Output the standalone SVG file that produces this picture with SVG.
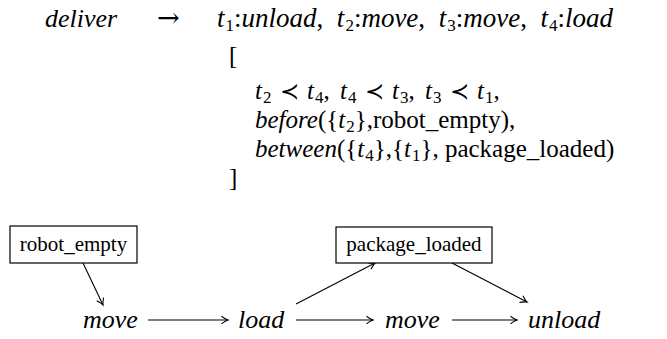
<svg xmlns="http://www.w3.org/2000/svg" width="667" height="339" viewBox="0 0 667 339" font-family="'Liberation Serif', 'DejaVu Serif', serif">
<style>
.t1{font-size:27px}
.t2{font-size:25px}
.it{font-style:italic}
.sb{font-size:17px}
.sym{font-family:'DejaVu Serif', serif}
.box{fill:#fff;stroke:#000;stroke-width:1.2}
.lbl{font-size:21px}
.node{font-size:26px;font-style:italic}
.edge{fill:none;stroke:#000;stroke-width:1.1;marker-end:url(#ah)}
</style>
<defs>
<marker id="ah" markerWidth="12" markerHeight="10" refX="0" refY="0" viewBox="-8 -5 10 10" orient="auto" markerUnits="userSpaceOnUse">
<path d="M-6.5,-3.8 Q-2,-0.6 0,0 Q-2,0.6 -6.5,3.8" fill="none" stroke="#000" stroke-width="1.1"/>
</marker>
</defs>
<g id="formula">
<text class="it" x="45" y="27" font-size="26">deliver</text>
<text class="sym" x="157" y="27" font-size="27">→</text>
<text class="t1" x="217" y="27" word-spacing="6.8"><tspan class="it">t</tspan><tspan class="sb" dx="1" dy="4">1</tspan><tspan dy="-4">:</tspan><tspan class="it">unload</tspan>, <tspan class="it">t</tspan><tspan class="sb" dx="1" dy="4">2</tspan><tspan dy="-4">:</tspan><tspan class="it">move</tspan>, <tspan class="it">t</tspan><tspan class="sb" dx="1" dy="4">3</tspan><tspan dy="-4">:</tspan><tspan class="it">move</tspan>, <tspan class="it">t</tspan><tspan class="sb" dx="1" dy="4">4</tspan><tspan dy="-4">:</tspan><tspan class="it">load</tspan></text>
<text class="t2" x="229" y="64">[</text>
<text class="t2" y="99"><tspan x="255" class="it">t</tspan><tspan class="sb" dx="1" dy="4">2</tspan><tspan x="280" dy="-4" class="sym" font-size="23">≺</tspan><tspan x="307" class="it">t</tspan><tspan class="sb" dx="1" dy="4">4</tspan><tspan dy="-4">,</tspan></text>
<text class="t2" y="99"><tspan x="340" class="it">t</tspan><tspan class="sb" dx="1" dy="4">4</tspan><tspan x="365" dy="-4" class="sym" font-size="23">≺</tspan><tspan x="392" class="it">t</tspan><tspan class="sb" dx="1" dy="4">3</tspan><tspan dy="-4">,</tspan></text>
<text class="t2" y="99"><tspan x="425" class="it">t</tspan><tspan class="sb" dx="1" dy="4">3</tspan><tspan x="450" dy="-4" class="sym" font-size="23">≺</tspan><tspan x="477" class="it">t</tspan><tspan class="sb" dx="1" dy="4">1</tspan><tspan dy="-4">,</tspan></text>
<text class="t2" x="255" y="128"><tspan class="it">before</tspan>({<tspan class="it">t</tspan><tspan class="sb" dx="1" dy="4">2</tspan><tspan dy="-4">},robot_empty),</tspan></text>
<text class="t2" x="255" y="157"><tspan class="it">between</tspan>({<tspan class="it">t</tspan><tspan class="sb" dx="1" dy="4">4</tspan><tspan dy="-4">},{</tspan><tspan class="it">t</tspan><tspan class="sb" dx="1" dy="4">1</tspan><tspan dy="-4">}, package_loaded)</tspan></text>
<text class="t2" x="229" y="186">]</text>
</g>
<g id="connectors">
<path class="edge" d="M83,263 L103,305"/>
<path class="edge" d="M148,320 L228,320"/>
<path class="edge" d="M296,304 L375,263"/>
<path class="edge" d="M296,320 L373,320"/>
<path class="edge" d="M452,263 L527,302"/>
<path class="edge" d="M452,320 L517,320"/>
</g>
<g id="robot_empty">
<rect class="box" x="10" y="226" width="127" height="37"/>
<text class="lbl" x="73.5" y="251" text-anchor="middle">robot_empty</text>
</g>
<g id="package_loaded">
<rect class="box" x="336" y="227" width="156" height="36"/>
<text class="lbl" x="414" y="251" text-anchor="middle">package_loaded</text>
</g>
<g id="move1"><text class="node" x="83" y="328">move</text></g>
<g id="load"><text class="node" x="238" y="328">load</text></g>
<g id="move2"><text class="node" x="385" y="328">move</text></g>
<g id="unload"><text class="node" x="528" y="328">unload</text></g>
</svg>
